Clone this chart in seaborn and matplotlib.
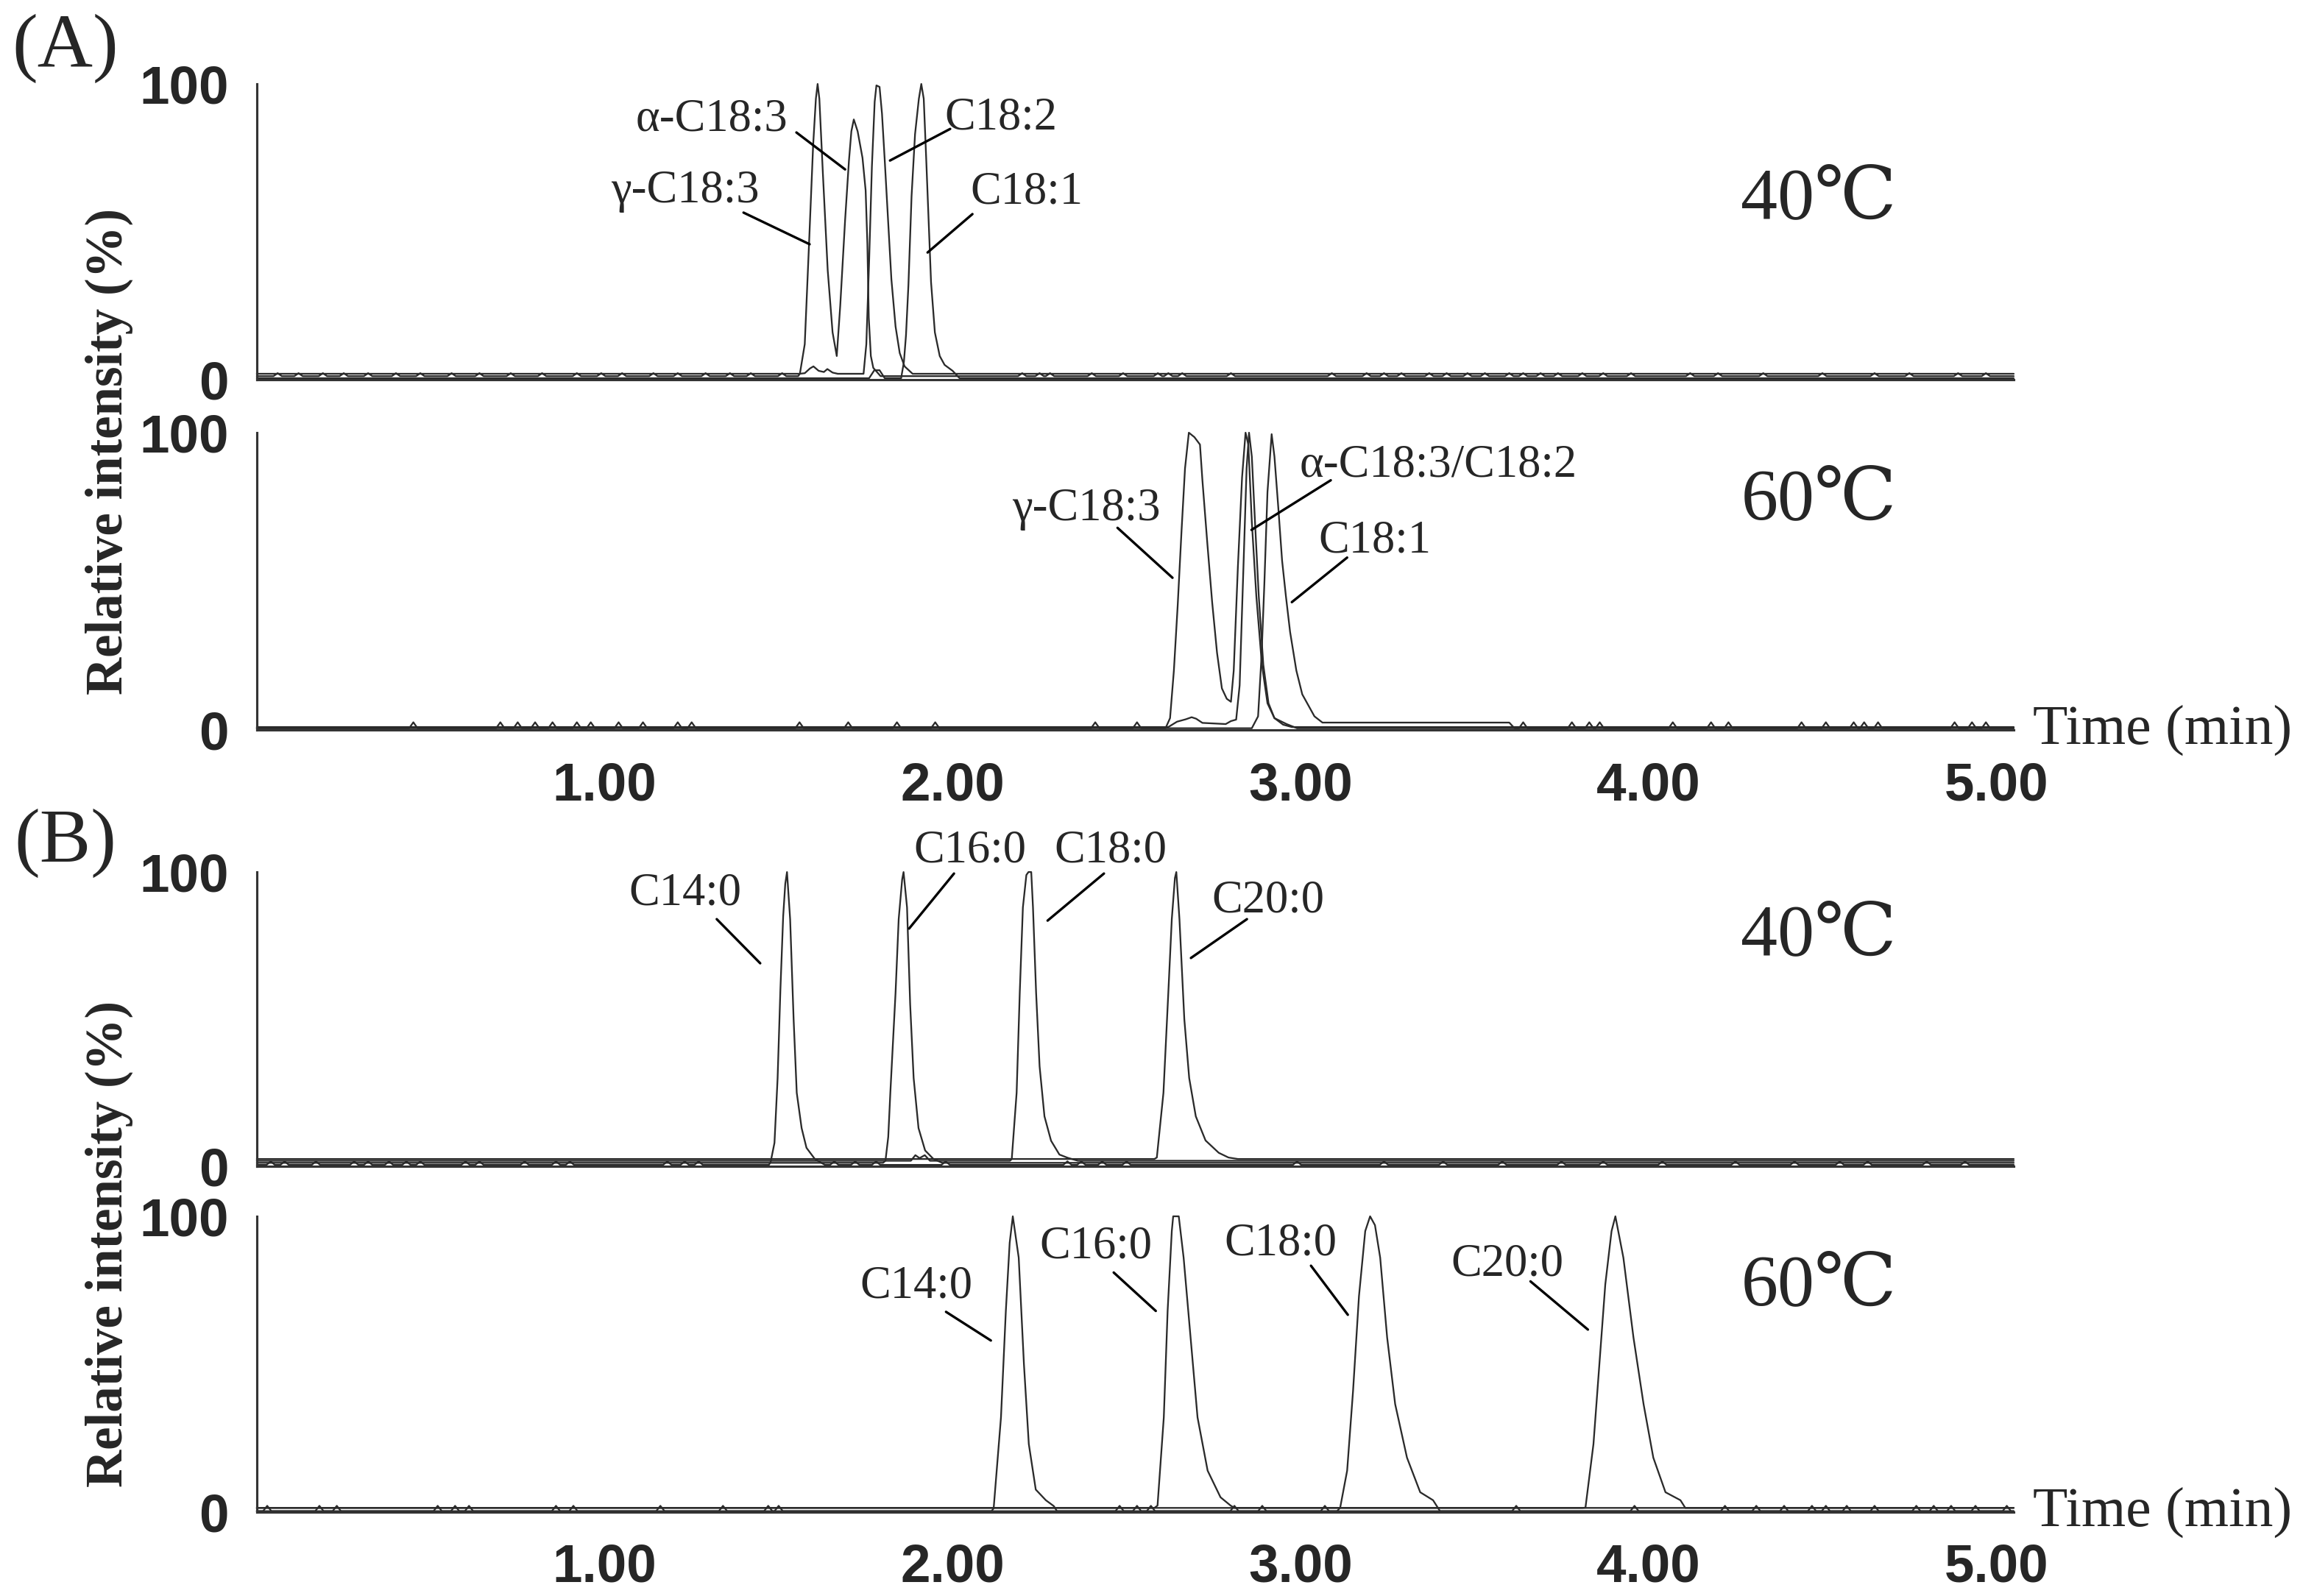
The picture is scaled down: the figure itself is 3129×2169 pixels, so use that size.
import numpy as np
import pandas as pd
import matplotlib
matplotlib.use("Agg")
import matplotlib.pyplot as plt
import seaborn as sns
from matplotlib.ticker import MultipleLocator, FixedLocator, FuncFormatter

XMAX = 5.05

# ---- (A) unsaturated FAs, 40 C : retention time (min) / relative intensity (%)
a40_c183_t = [1.556, 1.561, 1.575, 1.587, 1.599, 1.607, 1.612, 1.617, 1.627, 1.641, 1.655, 1.667, 1.677,
              1.691, 1.702, 1.709, 1.716, 1.727, 1.741, 1.750, 1.755, 1.759, 1.765, 1.772, 1.793]
a40_c183_v = [1.2, 2, 12, 45, 79, 95, 100, 95, 70, 37, 16, 8, 25,
              54, 74, 84, 88, 84, 75, 64, 46, 21, 8, 4, 1.2]
a40_c182_t = [1.560, 1.575, 1.590, 1.600, 1.615, 1.630, 1.640, 1.655, 1.670, 1.744, 1.752, 1.760, 1.768,
              1.776, 1.781, 1.790, 1.797, 1.805, 1.814, 1.824, 1.836, 1.848, 1.862, 1.885]
a40_c182_v = [2.0, 2.2, 3.8, 4.5, 3.0, 2.6, 3.6, 2.4, 2.0, 2.0, 12, 40, 72,
              94, 99.5, 99, 90, 74, 55, 34, 18, 9, 4.5, 2.0]
a40_c181_t = [1.760, 1.775, 1.790, 1.805, 1.852, 1.860, 1.866, 1.873, 1.882, 1.892, 1.903, 1.910, 1.917,
              1.924, 1.931, 1.938, 1.949, 1.963, 1.977, 2.000, 2.020]
a40_c181_v = [0.5, 3.2, 3.2, 0.5, 0.5, 6, 15, 32, 62, 83, 95, 100, 95,
              75, 54, 33, 16, 8, 5, 3, 0.5]
a40_blips = [0.06, 0.12, 0.19, 0.25, 0.32, 0.40, 0.47, 0.56, 0.64, 0.73, 0.82, 0.92, 0.99, 1.05, 1.14,
             1.21, 1.29, 1.36, 1.42, 1.51, 2.20, 2.25, 2.28, 2.40, 2.49, 2.59, 2.62, 2.66, 2.80, 3.09,
             3.19, 3.24, 3.29, 3.37, 3.42, 3.48, 3.53, 3.60, 3.64, 3.69, 3.74, 3.81, 3.87, 3.95, 4.12,
             4.20, 4.33, 4.50, 4.65, 4.75, 4.89, 4.97]

# ---- (A) unsaturated FAs, 60 C
a60_c183_t = [2.612, 2.625, 2.636, 2.647, 2.658, 2.668, 2.679, 2.695, 2.711, 2.718, 2.732, 2.746, 2.760,
              2.774, 2.788, 2.800, 2.808, 2.820, 2.832, 2.842, 2.850, 2.860, 2.873, 2.889, 2.905, 2.925,
              2.960, 2.990]
a60_c183_v = [0.6, 4, 20, 42, 67, 88, 100, 98.5, 96, 84, 63, 43, 26,
              14, 10.5, 9.5, 20, 55, 85, 100, 96, 70, 45, 22, 9, 4,
              2, 0.6]
a60_c182_t = [2.620, 2.645, 2.670, 2.687, 2.700, 2.718, 2.785, 2.800, 2.815, 2.825, 2.836, 2.845, 2.852,
              2.860, 2.870, 2.880, 2.893, 2.908, 2.925, 2.950, 2.975]
a60_c182_v = [1.0, 2.8, 3.6, 4.3, 3.8, 2.4, 2.0, 3.0, 3.5, 15, 55, 88, 100,
              92, 68, 45, 22, 9, 4, 1.8, 1.0]
a60_c181_t = [2.860, 2.878, 2.888, 2.896, 2.905, 2.917, 2.925, 2.936, 2.947, 2.958, 2.970, 2.988, 3.005,
              3.040, 3.063, 3.600, 3.615]
a60_c181_v = [0.6, 4.6, 25, 49, 80, 99.5, 92, 75, 57, 45, 33, 20, 12,
              4.6, 2.5, 2.5, 0.6]
a60_blips = [0.45, 0.70, 0.75, 0.80, 0.85, 0.92, 0.96, 1.04, 1.11, 1.21, 1.25, 1.56, 1.70, 1.84, 1.95,
             2.41, 2.53, 3.64, 3.78, 3.83, 3.86, 4.07, 4.18, 4.23, 4.44, 4.51, 4.59, 4.62, 4.66, 4.88,
             4.93, 4.97]

# ---- (B) saturated FAs, 40 C
b40_c140_t = [1.472, 1.477, 1.488, 1.497, 1.505, 1.513, 1.519, 1.524, 1.533, 1.543, 1.552, 1.566, 1.580,
              1.604, 1.633]
b40_c140_v = [0.5, 1.5, 8, 30, 60, 85, 96, 100, 84, 50, 25, 13, 6.3, 2.5, 0.5]
b40_c160_t = [1.800, 1.807, 1.815, 1.821, 1.836, 1.845, 1.855, 1.859, 1.869, 1.878, 1.888, 1.902, 1.921,
              1.945, 1.970]
b40_c160_v = [1.2, 1.9, 10, 25, 59, 84, 97.5, 100, 88, 55, 30, 13, 5.4, 2.5, 1.2]
b40_c180_t = [1.880, 1.893, 1.905, 1.920, 1.935, 2.165, 2.170, 2.184, 2.193, 2.202, 2.212, 2.218, 2.226,
              2.231, 2.240, 2.250, 2.264, 2.283, 2.307, 2.331, 2.360]
b40_c180_v = [1.9, 3.8, 2.8, 3.8, 1.9, 1.9, 2.5, 25, 59, 88, 99, 100, 100,
              88, 59, 34, 17, 8.7, 4, 2.9, 1.9]
b40_c200_t = [2.580, 2.587, 2.606, 2.620, 2.630, 2.639, 2.643, 2.652, 2.666, 2.680, 2.699, 2.727, 2.765,
              2.793, 2.820]
b40_c200_v = [2.5, 3, 25, 59, 84, 98, 100, 84, 50, 30, 17, 8.8, 4.6, 3, 2.5]
b40_blips = [0.04, 0.08, 0.17, 0.28, 0.32, 0.38, 0.43, 0.47, 0.60, 0.64, 0.77, 0.86, 0.90, 1.18, 1.23,
             1.27, 1.66, 1.72, 1.78, 1.98, 2.33, 2.37, 2.43, 2.50, 2.99, 3.24, 3.41, 3.58, 3.75, 3.87,
             4.04, 4.25, 4.42, 4.55, 4.63, 4.80, 4.91]

# ---- (B) saturated FAs, 60 C
b60_c140_t = [2.112, 2.118, 2.139, 2.153, 2.164, 2.173, 2.190, 2.205, 2.219, 2.239, 2.268, 2.291, 2.300]
b60_c140_v = [0.3, 1.3, 32, 68, 91, 100, 86, 50, 23, 7.6, 4, 2, 0.3]
b60_c160_t = [2.580, 2.589, 2.607, 2.618, 2.630, 2.634, 2.650, 2.664, 2.684, 2.704, 2.733, 2.770, 2.799,
              2.810]
b60_c160_v = [1.4, 2.2, 32, 68, 95, 100, 100, 86, 59, 32, 14, 5, 2.2, 1.4]
b60_c180_t = [3.105, 3.114, 3.134, 3.151, 3.168, 3.186, 3.200, 3.214, 3.229, 3.249, 3.272, 3.306, 3.344,
              3.381, 3.401]
b60_c180_v = [0.3, 1.5, 14, 41, 73, 95, 100, 97, 86, 59, 36.5, 18.4, 6.7, 4, 0.3]
b60_c200_t = [3.810, 3.819, 3.842, 3.859, 3.876, 3.894, 3.905, 3.928, 3.957, 3.986, 4.014, 4.049, 4.092,
              4.106]
b60_c200_v = [1.4, 1.5, 23, 50, 77, 95, 100, 86, 59, 36.5, 18.4, 6.7, 4, 1.4]
b60_blips = [0.03, 0.18, 0.23, 0.52, 0.57, 0.61, 0.86, 0.91, 1.16, 1.34, 1.47, 1.50, 2.48, 2.53, 2.57,
             2.81, 2.89, 3.07, 3.62, 3.96, 4.22, 4.31, 4.39, 4.47, 4.51, 4.57, 4.65, 4.77, 4.82, 4.87,
             4.94, 5.03]

# peak labels
a40_labels = ["γ-C18:3", "α-C18:3", "C18:2", "C18:1"]
a60_labels = ["γ-C18:3", "α-C18:3/C18:2", "C18:1"]
b_labels = ["C14:0", "C16:0", "C18:0", "C20:0"]
temps = ["40℃", "60℃", "40℃", "60℃"]

# ---- layout (label anchor and leader line start/end, in data units)
a40_lab_xy = [(1.232, 60.0), (1.308, 84.3), (2.139, 84.8), (2.213, 59.5)]
a40_lead = [((1.399, 56.5), (1.589, 45.8)), ((1.551, 83.6), (1.691, 71.1)),
            ((1.993, 84.8), (1.820, 74.1)), ((2.057, 56.0), (1.928, 43.0))]
a60_lab_xy = [(2.385, 70.5), (3.396, 85.4), (3.214, 59.9)]
a60_lead = [((2.474, 68.0), (2.632, 51.2)), ((3.087, 84.0), (2.859, 67.3)),
            ((3.134, 58.0), (2.975, 43.0))]
b40_lab_xy = [(1.232, 88.8), (2.050, 103.3), (2.455, 103.3), (2.907, 86.5)]
b40_lead = [((1.322, 84.0), (1.447, 69.0)), ((2.004, 99.5), (1.875, 80.8)),
            ((2.435, 99.5), (2.273, 83.5)), ((2.846, 84.0), (2.685, 70.8))]
b60_lab_xy = [(1.895, 72.6), (2.412, 86.0), (2.943, 87.0), (3.594, 80.0)]
b60_lead = [((1.981, 67.7), (2.110, 58.0)), ((2.463, 81.0), (2.584, 68.0)),
            ((3.030, 83.3), (3.136, 66.7)), ((3.661, 78.0), (3.826, 61.7))]
temp_y = [60.7, 77.0, 78.0, 76.0]


def build_trace(peak_t, peak_v, base, blips=(), blip_h=0.0):
    t = [0.0, XMAX]
    v = [base, base]
    lo, hi = peak_t[0], peak_t[-1]
    for b in blips:
        if lo - 0.02 < b < hi + 0.02:
            continue
        t += [b - 0.012, b, b + 0.012]
        v += [base, base + blip_h, base]
    t += list(peak_t)
    v += list(peak_v)
    order = np.argsort(t, kind="stable")
    return pd.DataFrame({"time": np.array(t)[order], "intensity": np.array(v)[order]})


panels = [
    dict(traces=[build_trace(a40_c183_t, a40_c183_v, 1.2, a40_blips, 1.0),
                 build_trace(a40_c182_t, a40_c182_v, 2.0),
                 build_trace(a40_c181_t, a40_c181_v, 0.5)],
         labels=a40_labels, lab_xy=a40_lab_xy, lead=a40_lead, xticks=False),
    dict(traces=[build_trace(a60_c183_t, a60_c183_v, 0.6, a60_blips, 2.0),
                 build_trace(a60_c182_t, a60_c182_v, 1.0),
                 build_trace(a60_c181_t, a60_c181_v, 0.6)],
         labels=a60_labels, lab_xy=a60_lab_xy, lead=a60_lead, xticks=True),
    dict(traces=[build_trace(b40_c140_t, b40_c140_v, 0.5, b40_blips, 1.2),
                 build_trace(b40_c160_t, b40_c160_v, 1.2),
                 build_trace(b40_c180_t, b40_c180_v, 1.9),
                 build_trace(b40_c200_t, b40_c200_v, 2.5)],
         labels=b_labels, lab_xy=b40_lab_xy, lead=b40_lead, xticks=False),
    dict(traces=[build_trace(b60_c140_t, b60_c140_v, 0.3, b60_blips, 1.8),
                 build_trace(b60_c160_t, b60_c160_v, 1.4),
                 build_trace(b60_c180_t, b60_c180_v, 0.3),
                 build_trace(b60_c200_t, b60_c200_v, 1.4)],
         labels=b_labels, lab_xy=b60_lab_xy, lead=b60_lead, xticks=True),
]

sns.set_theme(style="white")
plt.rcParams["font.family"] = ["Liberation Sans", "DejaVu Sans"]
plt.rcParams["font.weight"] = "bold"
SERIF = ["Liberation Serif", "DejaVu Serif", "Noto Sans CJK SC"]
LINE = "#2a2a2a"
AXC = "#333333"

fig = plt.figure(figsize=(10.43, 7.23), dpi=300)
rects = [[0.1115, 0.7621, 0.7629, 0.1853],
         [0.1115, 0.5426, 0.7629, 0.1863],
         [0.1115, 0.2692, 0.7629, 0.1844],
         [0.1115, 0.0526, 0.7629, 0.1853]]

for i, (p, r) in enumerate(zip(panels, rects)):
    ax = fig.add_axes(r)
    for df in p["traces"]:
        sns.lineplot(data=df, x="time", y="intensity", ax=ax, color=LINE, linewidth=0.55,
                     estimator=None, sort=False, legend=False)
        ax.lines[-1].set_clip_on(False)
    ax.set_xlim(0, XMAX)
    ax.set_ylim(0, 100)
    ax.set_xlabel("")
    ax.set_ylabel("")
    sns.despine(ax=ax)
    for s in ("left", "bottom"):
        ax.spines[s].set_linewidth(0.75)
        ax.spines[s].set_color(AXC)

    ax.yaxis.set_major_locator(FixedLocator([0, 50, 100]))
    ax.yaxis.set_minor_locator(MultipleLocator(10))
    ax.yaxis.set_major_formatter(FuncFormatter(lambda y, _: "" if y == 50 else f"{y:.0f}"))
    ax.tick_params(axis="y", which="major", direction="out", length=8.4, width=0.8,
                   color=AXC, pad=0.8, labelsize=17.5)
    ax.tick_params(axis="y", which="minor", direction="out", length=4.3, width=0.8, color=AXC)

    if p["xticks"]:
        ax.xaxis.set_major_locator(MultipleLocator(0.5))
        ax.xaxis.set_minor_locator(MultipleLocator(0.1))
        ax.xaxis.set_major_formatter(FuncFormatter(
            lambda x, _: f"{x:.2f}" if x > 0.5 and abs(x - round(x)) < 1e-6 else ""))
        ax.tick_params(axis="x", which="major", direction="out", length=8.2, width=0.8,
                       color=AXC, pad=1.9, labelsize=17.5)
        ax.tick_params(axis="x", which="minor", direction="out", length=4.3, width=0.8, color=AXC)
        ax.text(1.011, 0.0, "Time (min)", transform=ax.transAxes, ha="left", va="center",
                fontsize=18.6, fontweight="normal", family=SERIF)
    else:
        ax.tick_params(axis="x", which="both", bottom=False, labelbottom=False)

    for lab, (tx, ty), (a, b) in zip(p["labels"], p["lab_xy"], p["lead"]):
        ax.text(tx, ty, lab, ha="center", va="baseline", fontsize=15,
                fontweight="normal", family=SERIF, clip_on=False)
        ax.annotate("", xy=b, xytext=a, annotation_clip=False,
                    arrowprops=dict(arrowstyle="-", color="black", lw=0.8,
                                    shrinkA=0, shrinkB=0))

    ax.text(4.49, temp_y[i], temps[i], ha="center", va="center", fontsize=24,
            fontweight="normal", family=SERIF)

W, H = 3129, 2169
fig.text(89 / W, 1 - 66 / H, "(A)", ha="center", va="center", fontsize=25,
         fontweight="normal", family=SERIF)
fig.text(89 / W, 1 - 1146 / H, "(B)", ha="center", va="center", fontsize=25,
         fontweight="normal", family=SERIF)
for yc in (613, 1690):
    fig.text(148 / W, 1 - yc / H, "Relative intensity (%)", rotation=90, ha="center",
             va="center", fontsize=17, fontweight="bold", family=SERIF)

fig.savefig("out.png", dpi=300)
